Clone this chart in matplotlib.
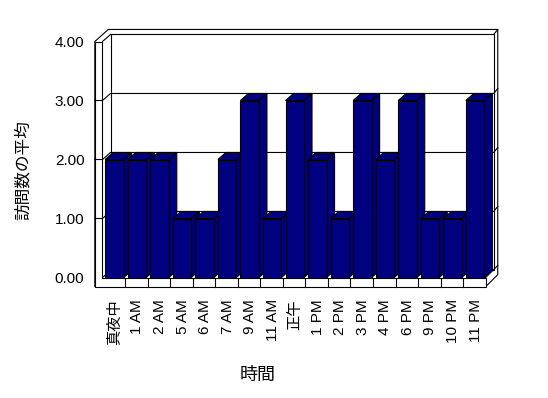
import matplotlib
matplotlib.use("Agg")
import matplotlib.pyplot as plt
from matplotlib.patches import Polygon

plt.rcParams['font.family'] = ['Liberation Sans', 'Noto Sans CJK JP']

# data
hours = ["真夜中", "1 AM", "2 AM", "5 AM", "6 AM", "7 AM", "9 AM", "11 AM", "正午",
         "1 PM", "2 PM", "3 PM", "4 PM", "6 PM", "9 PM", "10 PM", "11 PM"]
avg_visits = [2, 2, 2, 1, 1, 2, 3, 1, 3, 2, 1, 3, 2, 3, 1, 1, 3]
yticks = [0, 1, 2, 3, 4]
ytick_labels = ["0.00", "1.00", "2.00", "3.00", "4.00"]

n = len(hours)
ymax = yticks[-1]

# fake 3d look (data units)
DX, DY = 0.355, 0.119      # depth of the plot box
TX, TY = 0.18, 0.085       # wall thickness, back
WALL = 0.34                # left wall thickness
FLOOR = 0.156              # floor thickness
BAR_OFF, BAR_W = 0.12, 0.82
NAVY = "#000080"

fig = plt.figure(figsize=(5.48, 3.98), dpi=100)
ax = fig.add_axes([0.18704, 0.30276, 0.69927, 0.59296])
ax.set_xlim(0, n)
ax.set_ylim(0, ymax)
for s in ax.spines.values():
    s.set_visible(False)
ax.patch.set_visible(False)

lw = 0.8
# outer silhouette of walls + floor
outer = [(-WALL, -FLOOR), (-WALL, ymax), (DX - 0.1, ymax + DY + TY),
         (n + DX + TX, ymax + DY + TY), (n + DX + TX, DY + TY - FLOOR), (n, -FLOOR)]
ax.add_patch(Polygon(outer, closed=True, fc="white", ec="black", lw=lw, clip_on=False, zorder=1))
# back wall inner face
back = [(DX, DY), (DX, ymax + DY), (n + DX, ymax + DY), (n + DX, DY)]
ax.add_patch(Polygon(back, closed=True, fc="white", ec="black", lw=lw, clip_on=False, zorder=1.1))
# left wall top + inner corner lines
ax.plot([0, DX], [ymax, ymax + DY], color="black", lw=lw, clip_on=False, zorder=1.2)
ax.plot([n + DX, n + DX + TX], [ymax + DY, ymax + DY + TY], color="black", lw=lw, clip_on=False, zorder=1.2)
ax.plot([0, DX], [0, DY], color="black", lw=lw, clip_on=False, zorder=1.2)
ax.plot([n, n + DX + TX], [0, DY + TY], color="black", lw=lw, clip_on=False, zorder=1.2)
# front face (left wall + floor)
front = [(-WALL, -FLOOR), (-WALL, ymax), (0, ymax), (0, 0), (n, 0), (n, -FLOOR)]
ax.add_patch(Polygon(front, closed=True, fc="white", ec="black", lw=lw, clip_on=False, zorder=1.15))
for k in range(1, n):
    ax.plot([k, k], [0, -FLOOR], color="black", lw=lw, clip_on=False, zorder=1.2)

# gridlines
for v in yticks[1:-1]:
    ax.plot([-WALL, 0, DX, n + DX, n + DX + TX], [v, v, v + DY, v + DY, v + DY + TY],
            color="black", lw=lw, clip_on=False, zorder=1.2)

# bars: sides and tops
for i, v in enumerate(avg_visits):
    x0 = i + BAR_OFF
    x1 = x0 + BAR_W
    side = [(x1, 0), (x1, v), (x1 + DX, v + DY), (x1 + DX, DY)]
    top = [(x0, v), (x1, v), (x1 + DX, v + DY), (x0 + DX, v + DY)]
    z = 2 + i * 0.01
    ax.add_patch(Polygon(side, closed=True, fc=NAVY, ec="black", lw=lw, clip_on=False, zorder=z))
    ax.add_patch(Polygon(top, closed=True, fc=NAVY, ec="black", lw=lw, clip_on=False, zorder=z))
ax.bar([i + BAR_OFF for i in range(n)], avg_visits, width=BAR_W, align="edge",
       color=NAVY, edgecolor="black", lw=lw, zorder=3)

ax.set_yticks(yticks)
ax.set_yticklabels(ytick_labels, fontsize=11)
ax.set_xticks([i + 0.55 for i in range(n)])
ax.set_xticklabels(hours, rotation=90, fontsize=11)
ax.tick_params(axis="y", length=0, pad=13)
ax.tick_params(axis="x", length=0, pad=15.5)

ax.set_xlabel("時間", fontsize=13, va="center")
ax.xaxis.set_label_coords(0.406, -0.415)
ax.set_ylabel("訪問数の平均", fontsize=12, va="center", ha="center")
ax.yaxis.set_label_coords(-0.2075, 0.4555)

fig.savefig("out.png", dpi=100)
